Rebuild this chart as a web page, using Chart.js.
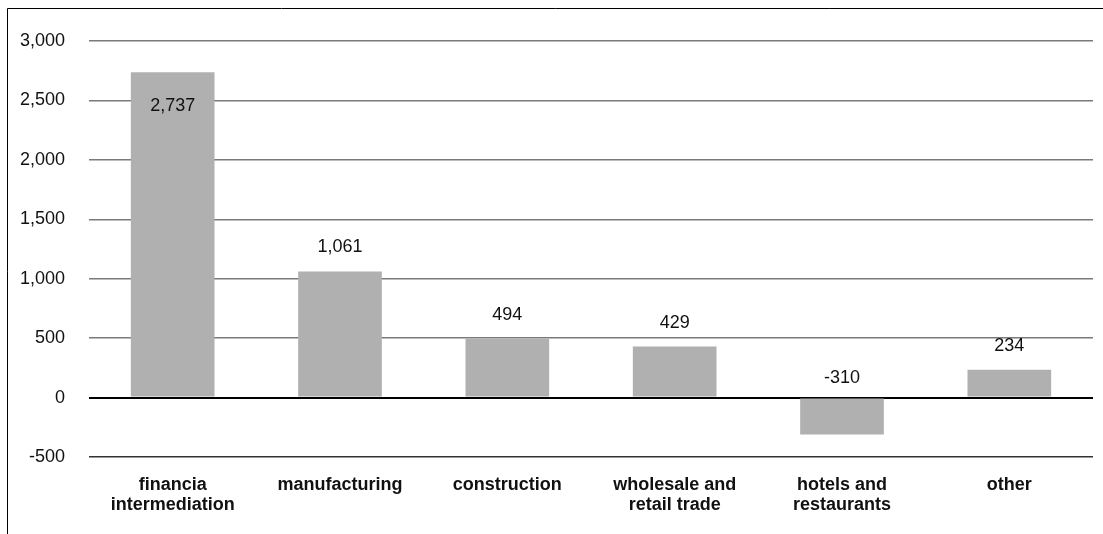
<!DOCTYPE html>
<html>
<head>
<meta charset="utf-8">
<script src="https://cdn.jsdelivr.net/npm/chart.js@4.4.0/dist/chart.umd.min.js"></script>
<style>
  body { margin: 0; background: #fff; }
  #wrap { position: relative; width: 1103px; height: 534px; }
</style>
</head>
<body>
<div id="wrap"><canvas id="grafico"></canvas></div>
<script>
// Dados

var categorias = [
  ['financia', 'intermediation'],
  'manufacturing',
  'construction',
  ['wholesale and', 'retail trade'],
  ['hotels and', 'restaurants'],
  'other'
];

var valores = [2737, 1061, 494, 429, -310, 234];

var yMin = -500;
var yMax = 3000;
var yPasso = 500;

// Moldura (linha superior e esquerda)

var molduraPlugin = {
  id: 'moldura',
  beforeDraw: function (chart) {
    var ctx = chart.ctx;
    ctx.save();
    ctx.strokeStyle = '#000';
    ctx.lineWidth = 1;
    ctx.beginPath();
    ctx.moveTo(7.5, chart.height);
    ctx.lineTo(7.5, 8.5);
    ctx.lineTo(chart.width, 8.5);
    ctx.stroke();
    ctx.restore();
  }
};

// Rótulos dos valores

var rotulosPlugin = {
  id: 'rotulos',
  afterDatasetsDraw: function (chart) {
    var ctx = chart.ctx;
    var meta = chart.getDatasetMeta(0);
    var area = chart.chartArea;
    ctx.save();
    ctx.font = '18px "Liberation Sans", Arial, sans-serif';
    ctx.fillStyle = '#111';
    ctx.textAlign = 'center';
    ctx.textBaseline = 'middle';
    meta.data.forEach(function (bar, i) {
      var v = valores[i];
      var y;
      if (v >= 0) {
        y = bar.y - 24;
        if (y < area.top + 15) {
          y = bar.y + 34;
        }
      } else {
        y = bar.base - 21;
      }
      ctx.fillText(v.toLocaleString('en-US'), bar.x, y);
    });
    ctx.restore();
  }
};

var dataGrafico = {
  labels: categorias,
  datasets: [{
    data: valores,
    backgroundColor: '#b0b0b0',
    borderWidth: 0,
    barPercentage: 0.5,
    categoryPercentage: 1.0
  }]
};

var options = {
  responsive: true,
  maintainAspectRatio: false,
  animation: false,
  layout: {
    padding: { top: 41, right: 10, bottom: 0, left: 0 }
  },
  plugins: {
    legend: { display: false },
    tooltip: { enabled: false }
  },
  scales: {
    x: {
      grid: { display: false, drawTicks: false },
      border: { display: false },
      afterFit: function (scale) { scale.height = 77; },
      ticks: {
        color: '#111',
        padding: 18,
        maxRotation: 0,
        autoSkip: false,
        font: {
          size: 18,
          weight: 'bold',
          family: '"Liberation Sans", Arial, sans-serif',
          lineHeight: 1.1
        }
      }
    },
    y: {
      min: yMin,
      max: yMax,
      afterFit: function (scale) { scale.width = 89; },
      border: { display: false },
      grid: {
        drawTicks: false,
        color: function (c) {
          if (c.tick.value === 0) return '#000';
          if (c.tick.value === yMin) return '#333';
          return '#7a7a7a';
        },
        lineWidth: function (c) {
          return c.tick.value === 0 ? 2 : 1.5;
        }
      },
      ticks: {
        stepSize: yPasso,
        padding: 24,
        color: '#111',
        callback: function (v) { return v.toLocaleString('en-US'); },
        font: {
          size: 18,
          family: '"Liberation Sans", Arial, sans-serif'
        }
      }
    }
  }
};

var ctxGrafico = document.getElementById('grafico').getContext('2d');

var meuGrafico = new Chart(ctxGrafico, {
  type: 'bar',
  data: dataGrafico,
  options: options,
  plugins: [molduraPlugin, rotulosPlugin]
});
</script>
</body>
</html>
